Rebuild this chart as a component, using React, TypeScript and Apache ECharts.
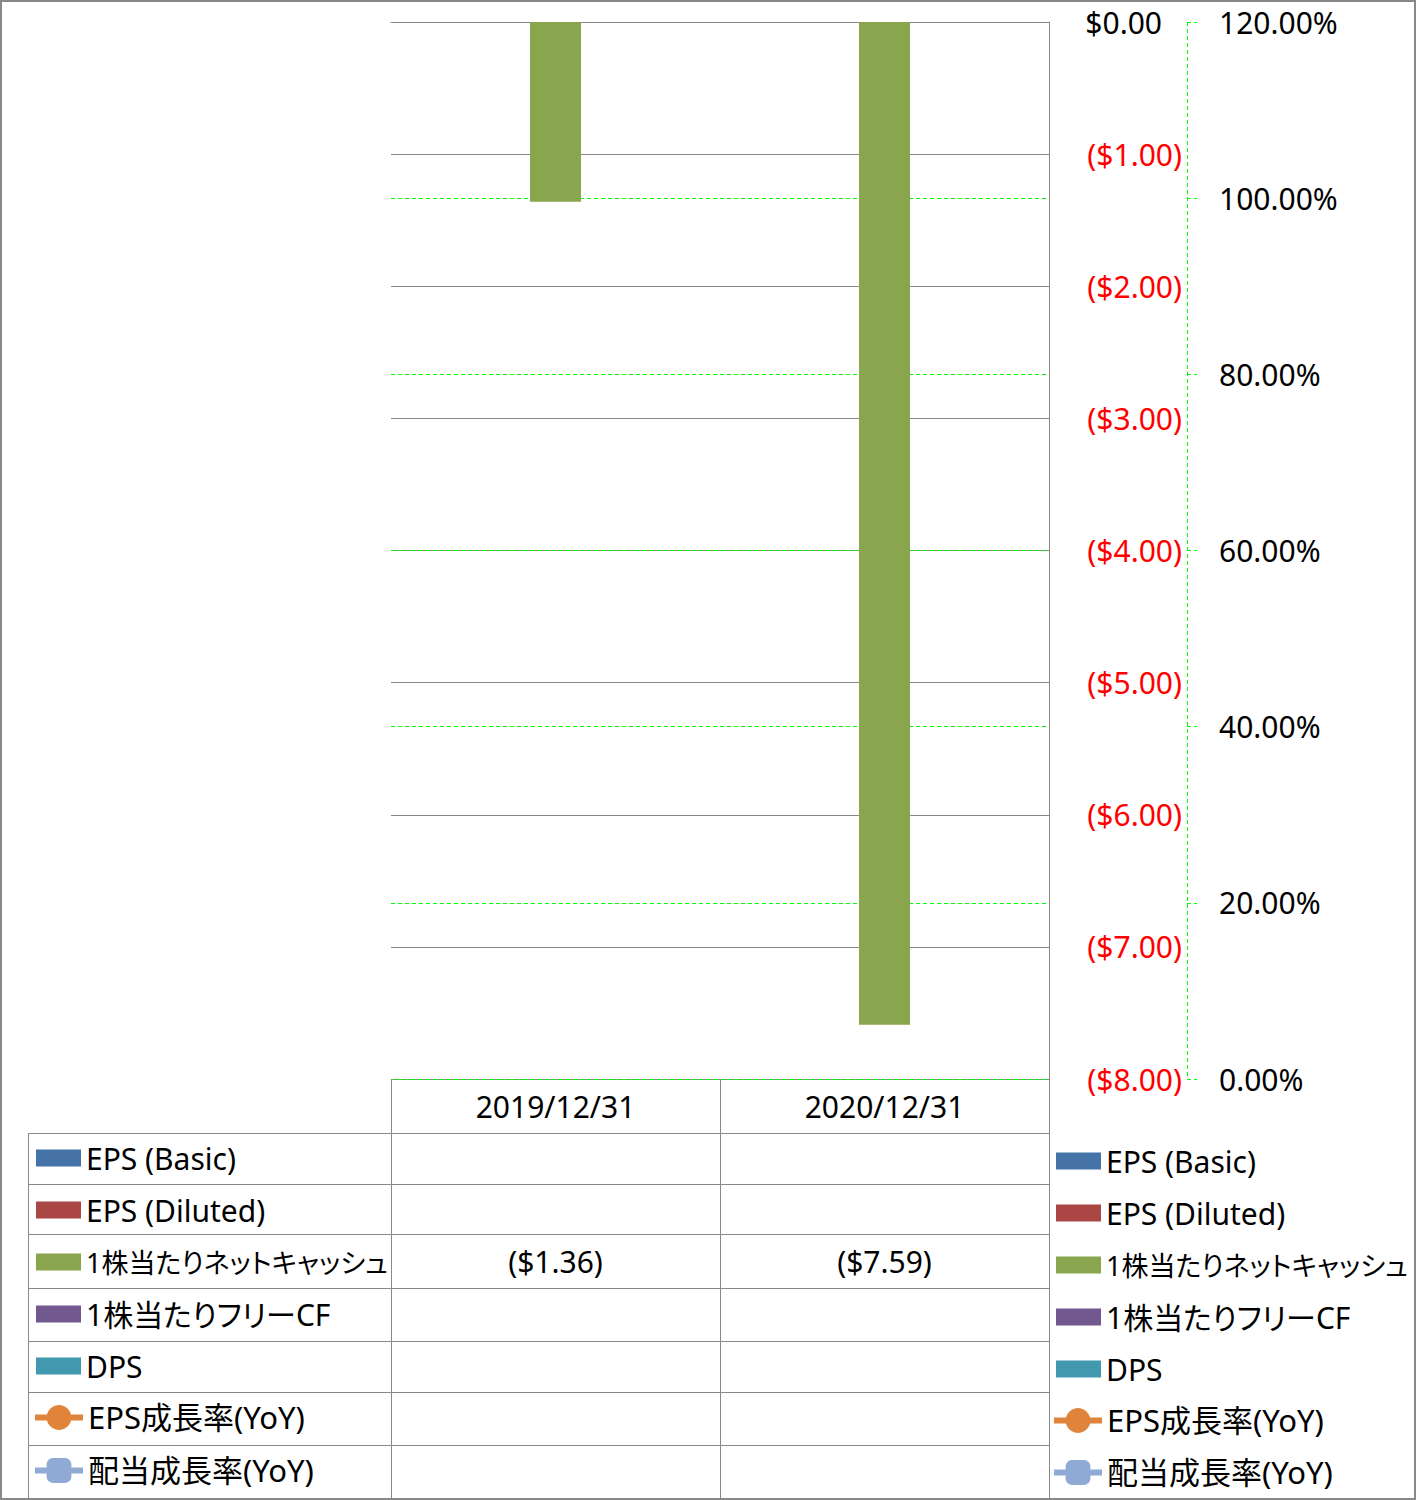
import React, { useEffect, useRef } from 'react';
import * as echarts from 'echarts';

// ---- data ----
const categories = ['2019/12/31', '2020/12/31'];
const barSeriesNames = ['EPS (Basic)', 'EPS (Diluted)', '1株当たりネットキャッシュ', '1株当たりフリーCF', 'DPS'];
const lineSeriesNames = ['EPS成長率(YoY)', '配当成長率(YoY)'];
const epsBasic: (number | null)[] = [null, null];
const epsDiluted: (number | null)[] = [null, null];
const netCashPerShare: (number | null)[] = [-1.36, -7.59];
const fcfPerShare: (number | null)[] = [null, null];
const dps: (number | null)[] = [null, null];
const epsGrowth: (number | null)[] = [null, null];
const dpsGrowth: (number | null)[] = [null, null];
const usdAxis = { min: -8, max: 0, step: 1 };
const pctAxis = { min: 0, max: 120, step: 20 };

const barColors = ['#4572A7', '#AA4643', '#89A54E', '#71588F', '#4198AF'];
const lineColors = ['#E0843C', '#8FAAD5'];
const lineSymbols = ['circle', 'roundRect'];

const FONT = "'Noto Sans', 'Noto Sans CJK JP', sans-serif";
const GRID = { left: 391, top: 22, width: 658, height: 1057 };
const PCT_OFFSET = 138;
const ROW_EDGES = [1133, 1184, 1234, 1288, 1341, 1392, 1445, 1498];

const fmtUsd = (v: number) => (v < 0 ? `($${Math.abs(v).toFixed(2)})` : `$${v.toFixed(2)}`);

export default function App() {
  const ref = useRef<HTMLDivElement>(null);
  useEffect(() => {
    const st = document.createElement('style');
    st.textContent = `#root svg text, #root svg tspan { font-feature-settings: "palt" 1 !important; }`;
    document.head.appendChild(st);
    const chart = echarts.init(ref.current!, null, { renderer: 'svg' });
    const barData = [epsBasic, epsDiluted, netCashPerShare, fcfPerShare, dps];
    const lineData = [epsGrowth, dpsGrowth];
    const legendText = { fontSize: 30, fontFamily: FONT, color: '#000' };
    const mkLegend = (
      left: number,
      top: number,
      data: any[],
      itemWidth: number,
      itemHeight: number,
      itemGap: number,
      extra: any = {}
    ) => ({
      orient: 'vertical',
      left,
      top,
      data,
      itemWidth,
      itemHeight,
      itemGap,
      padding: 0,
      selectedMode: false,
      textStyle: { ...legendText, lineHeight: 30 },
      ...extra,
    });
    const barLegendData = barSeriesNames.map((n) =>
      /[^\x00-\x7F]/.test(n) && n.length > 10
        ? { name: n, icon: 'rect', textStyle: { fontSize: 27, lineHeight: 30 } }
        : { name: n, icon: 'rect' }
    );
    const lineLegendData = lineSeriesNames.map((n) => ({ name: n, textStyle: { fontSize: 31, lineHeight: 30 } }));
    const lineLegendExtra = { lineStyle: { width: 6 } };
    const series: any[] = [
      ...barSeriesNames.map((n, i) => ({
        name: n,
        type: 'bar',
        data: barData[i],
        barWidth: 51,
        barGap: '0%',
        itemStyle: { color: barColors[i] },
      })),
      ...lineSeriesNames.map((n, i) => ({
        name: n,
        type: 'line',
        yAxisIndex: 1,
        data: lineData[i],
        symbol: lineSymbols[i],
        symbolSize: 14,
        itemStyle: { color: lineColors[i] },
        lineStyle: { color: lineColors[i], width: 6 },
      })),
    ];
    const option: any = {
      animation: false,
      backgroundColor: '#ffffff',
      grid: { ...GRID, containLabel: false },
      xAxis: {
        type: 'category',
        data: categories,
        axisLine: { show: true, lineStyle: { color: '#888888' } },
        axisTick: { show: false },
        splitLine: { show: false },
        axisLabel: { fontSize: 30, fontFamily: FONT, color: '#000', margin: 12, interval: 0 },
      },
      yAxis: [
        {
          type: 'value',
          position: 'right',
          min: usdAxis.min,
          max: usdAxis.max,
          interval: usdAxis.step,
          axisLine: { show: true, lineStyle: { color: '#888888' } },
          axisTick: { show: false },
          splitLine: { show: true, lineStyle: { color: '#888888', width: 1 } },
          axisLabel: {
            align: 'right',
            margin: 133,
            fontSize: 30,
            fontFamily: FONT,
            formatter: (v: number) => (v < 0 ? fmtUsd(v) : `${fmtUsd(v)}{h| }`),
            color: (v: any) => (Number(v) < 0 ? '#FF0000' : '#000000'),
            rich: { h: { fontSize: 30, width: 20, color: 'rgba(0,0,0,0)' } },
          },
        },
        {
          type: 'value',
          position: 'right',
          offset: PCT_OFFSET,
          min: pctAxis.min,
          max: pctAxis.max,
          interval: pctAxis.step,
          axisLine: { show: false },
          axisTick: { show: true, length: 10, lineStyle: { color: '#00FF00', type: [4, 3] } },
          splitLine: { show: true, lineStyle: { color: '#00FF00', type: [4, 3] } },
          axisLabel: {
            margin: 32,
            fontSize: 30,
            fontFamily: FONT,
            color: '#000',
            formatter: (v: number) => `${v.toFixed(2)}%`,
          },
        },
      ],
      legend: [
        mkLegend(36, 1143, barLegendData, 45, 17, 22),
        mkLegend(32, 1402, lineLegendData, 48, 31, 22, lineLegendExtra),
        mkLegend(1056, 1146, barLegendData, 45, 17, 22),
        mkLegend(1051, 1405, lineLegendData, 48, 31, 21, lineLegendExtra),
      ],
      series,
    };
    chart.setOption(option);

    // data table, positioned through the category axis
    const xs = categories.map((c) => chart.convertToPixel({ xAxisIndex: 0 }, c) as number);
    const half = xs.length > 1 ? (xs[1] - xs[0]) / 2 : GRID.width / 2;
    const colEdges = [xs[0] - half, ...xs.map((x) => x + half)];
    const lineStyle = { stroke: '#888888', lineWidth: 1 };
    const els: any[] = [];
    const hl = (x1: number, x2: number, y: number) =>
      els.push({ type: 'line', silent: true, shape: { x1, y1: y + 0.5, x2, y2: y + 0.5 }, style: lineStyle });
    const vl = (x: number, y1: number, y2: number) =>
      els.push({ type: 'line', silent: true, shape: { x1: x + 0.5, y1, x2: x + 0.5, y2 }, style: lineStyle });
    ROW_EDGES.forEach((y) => hl(28, colEdges[colEdges.length - 1], y));
    vl(28, ROW_EDGES[0], ROW_EDGES[ROW_EDGES.length - 1]);
    colEdges.forEach((x) => vl(Math.round(x), GRID.top + GRID.height, ROW_EDGES[ROW_EDGES.length - 1]));

    // secondary axis line (green dashed), crisp on the pixel grid
    const yTop = chart.convertToPixel({ yAxisIndex: 1 }, pctAxis.max) as number;
    const yBot = chart.convertToPixel({ yAxisIndex: 1 }, pctAxis.min) as number;
    const ax = GRID.left + GRID.width + PCT_OFFSET + 0.5;
    els.push({
      type: 'line',
      silent: true,
      z: 50,
      shape: { x1: ax, y1: yTop, x2: ax, y2: yBot },
      style: { stroke: '#00FF00', lineWidth: 1, lineDash: [4, 3] },
    });

    const allData = [...barData, ...lineData];
    allData.forEach((arr, r) => {
      const yc = (ROW_EDGES[r] + ROW_EDGES[r + 1]) / 2;
      arr.forEach((v, i) => {
        if (v == null) return;
        const txt = r < barData.length ? fmtUsd(v) : `${v.toFixed(2)}%`;
        els.push({
          type: 'text',
          x: xs[i],
          y: yc,
          silent: true,
          style: {
            text: txt,
            fontSize: 30,
            fontFamily: FONT,
            fill: '#000',
            align: 'center',
            verticalAlign: 'middle',
            textAlign: 'center',
            textVerticalAlign: 'middle',
          },
        });
      });
    });
    els.push({
      type: 'rect',
      silent: true,
      z: 100,
      shape: { x: 1, y: 1, width: 1414, height: 1498 },
      style: { fill: 'none', stroke: '#888888', lineWidth: 2 },
    });
    chart.setOption({ graphic: { elements: els } });

    return () => {
      chart.dispose();
      st.remove();
    };
  }, []);
  return <div ref={ref} style={{ position: 'absolute', left: 0, top: 0, width: 1416, height: 1500 }} />;
}
